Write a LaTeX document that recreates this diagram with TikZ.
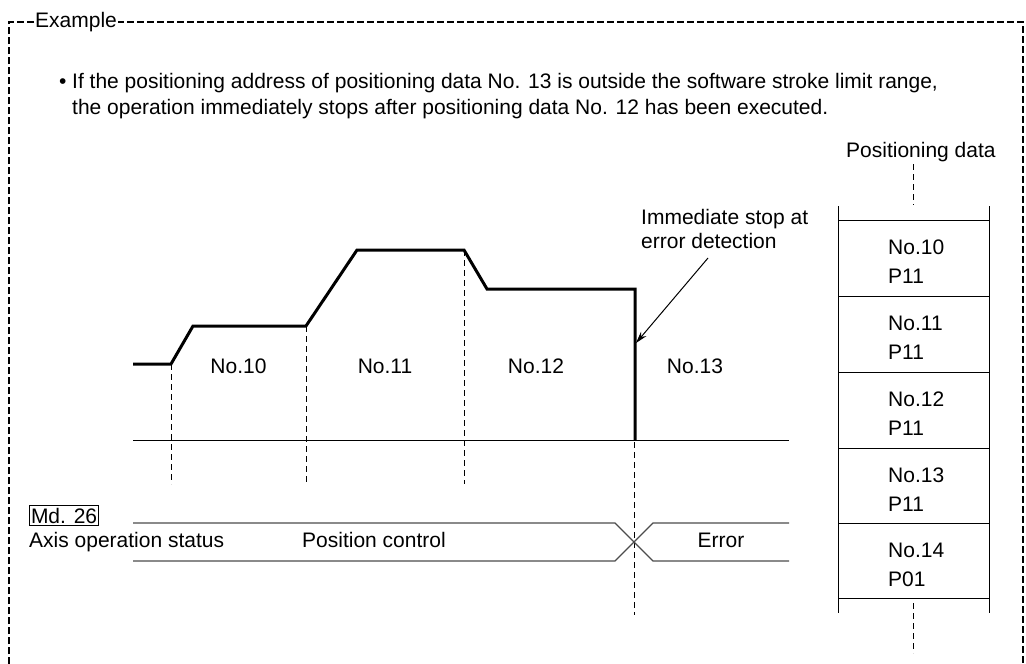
\documentclass[tikz,border=0pt]{standalone}
\usepackage{fontspec}
\setmainfont{Liberation Sans}
\usetikzlibrary{arrows.meta}
\begin{document}
\begin{tikzpicture}[x=1pt,y=-1pt,
  txt/.style={inner sep=0pt, font=\fontsize{21}{25}\selectfont},
  frame/.style={line width=2pt, dash pattern=on 7pt off 3pt},
  prof/.style={line width=3pt, line join=miter},
  guide/.style={line width=1pt, dash pattern=on 6pt off 4pt},
  thinline/.style={line width=1pt},
  stat/.style={line width=1.3pt, draw=black!70},
  ]
\useasboundingbox (0,0) rectangle (1026,664);
% frame
\coordinate (f0) at (9,664);
\coordinate (f1) at (9,22);
\coordinate (f2) at (1023,22);
\coordinate (f3) at (1023,664);
\draw[frame] (f0) -- (f1) -- (f2) -- (f3);
\node[txt, fill=white, anchor=base west, inner xsep=1pt] (ex) at (34,27) {Example};
% description
\node[txt, anchor=base west] (bul) at (59,88) {•};
\node[txt, anchor=base west] (l1) at (72,88) {If the positioning address of positioning data No. 13 is outside the software stroke limit range,};
\node[txt, anchor=base west] (l2) at (72,114) {the operation immediately stops after positioning data No. 12 has been executed.};
% speed profile
\coordinate (p0) at (133,364);
\coordinate (p1) at (171,364);
\coordinate (p2) at (193,326);
\coordinate (p3) at (306,326);
\coordinate (p4) at (357,250);
\coordinate (p5) at (464,250);
\coordinate (p6) at (487,289);
\coordinate (p7) at (635,289);
\coordinate (p8) at (635,440);
\coordinate (b0) at (133,440);
\coordinate (b1) at (789,440);
\draw[thinline] (b0) -- (b1);
\draw[prof] (p0) -- (p1) -- (p2) -- (p3) -- (p4) -- (p5) -- (p6) -- (p7) -- (p8);
% guides
\coordinate (g1) at (171,484);
\coordinate (g3) at (306,484);
\coordinate (g5) at (464,484);
\coordinate (g7a) at (634,442);
\coordinate (g7b) at (634,615);
\draw[guide] (p1) -- (g1);
\draw[guide] (p3) -- (g3);
\draw[guide] (p5) -- (g5);
\draw[guide] (g7a) -- (g7b);
% labels
\node[txt, anchor=base] (n10) at (238.5,373) {No.10};
\node[txt, anchor=base] (n11) at (385,373) {No.11};
\node[txt, anchor=base] (n12) at (536,373) {No.12};
\node[txt, anchor=base] (n13) at (695,373) {No.13};
% immediate stop
\node[txt, anchor=base west] (is1) at (641,224) {Immediate stop at};
\node[txt, anchor=base west] (is2) at (641,248) {error detection};
\coordinate (as) at (708,258);
\coordinate (ae) at (636,343);
\draw[thinline, -{Stealth[length=12pt,width=7pt]}] (as) -- (ae);
% positioning data table
\node[txt, anchor=base west] (pd) at (846,157) {Positioning data};
\coordinate (d1a) at (913,164);
\coordinate (d1b) at (913,205);
\coordinate (d2a) at (913,603);
\coordinate (d2b) at (913,653);
\draw[guide] (d1a) -- (d1b);
\draw[guide] (d2a) -- (d2b);
\coordinate (tl0) at (838,206);
\coordinate (tl1) at (838,613);
\coordinate (tr0) at (989,206);
\coordinate (tr1) at (989,613);
\draw[thinline] (tl0) -- (tl1);
\draw[thinline] (tr0) -- (tr1);
\foreach \yy/\nm in {220/h0,296/h1,372/h2,448/h3,523/h4,598/h5}{
  \coordinate (\nm a) at (838,\yy);
  \coordinate (\nm b) at (989,\yy);
  \draw[thinline] (\nm a) -- (\nm b);
}
\foreach \yy/\no/\pp/\nm in {220/No.10/P11/r0,296/No.11/P11/r1,372/No.12/P11/r2,448/No.13/P11/r3,523/No.14/P01/r4}{
  \node[txt, anchor=base west] (\nm n) at (888,\yy+34) {\no};
  \node[txt, anchor=base west] (\nm p) at (888,\yy+63) {\pp};
}
% axis operation status
\node[txt, draw, line width=1pt, inner xsep=1.5pt, inner ysep=2pt, anchor=base west] (md) at (29,523) {Md. 26};
\node[txt, anchor=base west] (aos) at (29,547) {Axis operation status};
\coordinate (s0) at (133,523);
\coordinate (s1) at (615,523);
\coordinate (s2) at (653,523);
\coordinate (s3) at (789,523);
\coordinate (t0) at (133,561);
\coordinate (t1) at (615,561);
\coordinate (t2) at (653,561);
\coordinate (t3) at (789,561);
\draw[stat] (s0) -- (s1) -- (t2) -- (t3);
\draw[stat] (t0) -- (t1) -- (s2) -- (s3);
\node[txt, anchor=base] (pc) at (374,547) {Position control};
\node[txt, anchor=base] (er) at (721,547) {Error};
\end{tikzpicture}
\end{document}
